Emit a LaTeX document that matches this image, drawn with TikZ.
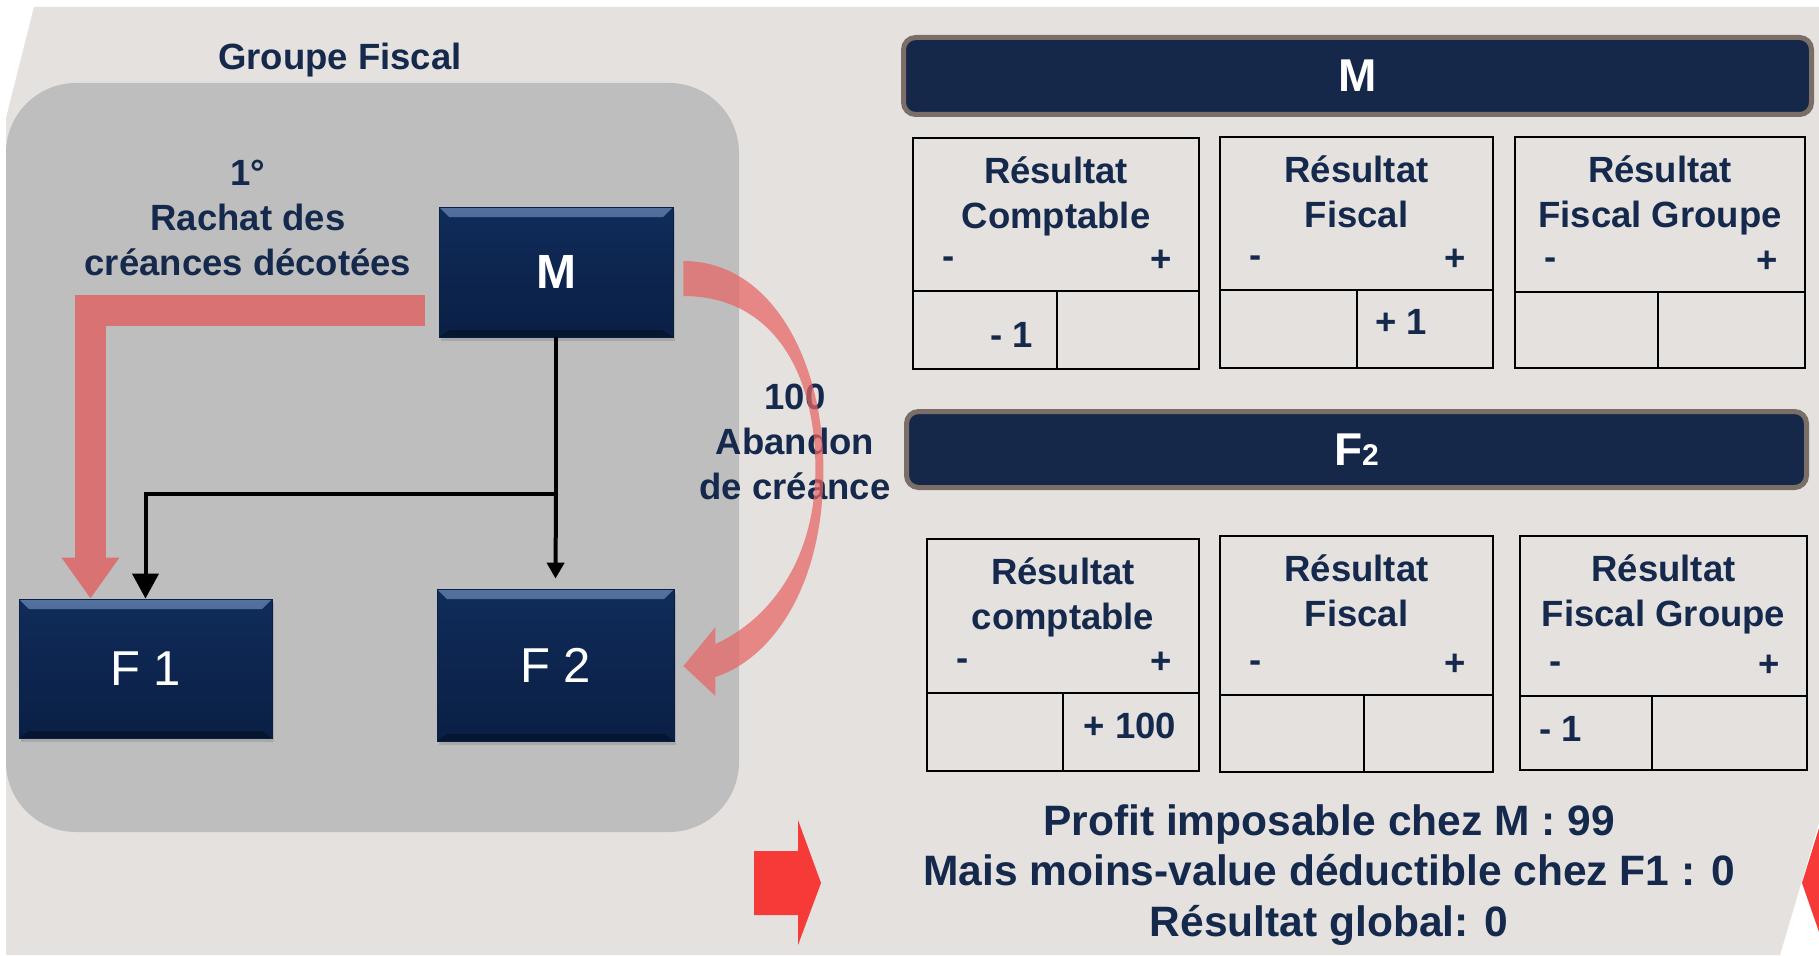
\documentclass[tikz,border=0pt]{standalone}
\usepackage{fontspec}
\setmainfont{Liberation Sans}
\usetikzlibrary{arrows.meta,positioning,calc,shadows}

\definecolor{slide}{RGB}{228,225,222}
\definecolor{groupgrey}{RGB}{190,190,190}
\definecolor{ink}{RGB}{21,41,77}
\definecolor{boxtop}{RGB}{16,44,90}
\definecolor{boxbot}{RGB}{10,31,68}
\definecolor{bevel}{RGB}{84,114,160}
\definecolor{barnavy}{RGB}{22,40,74}
\definecolor{taupe}{RGB}{122,110,102}
\definecolor{flow}{RGB}{217,114,114}
\definecolor{gift}{RGB}{232,100,100}
\definecolor{alert}{RGB}{245,58,55}

\begin{document}
\begin{tikzpicture}[
		x=1pt, y=-1pt,
		>=Latex,
		entity/.style={draw=boxbot, line width=0.8pt, top color=boxtop, bottom color=boxbot, text=white,
			drop shadow={shadow xshift=2pt, shadow yshift=-4pt, opacity=.35},
			path picture={
				\shade[top color=bevel, bottom color=boxtop]
				(path picture bounding box.north west) -- (path picture bounding box.north east)
				-- ([shift={(-10pt,-10pt)}]path picture bounding box.north east)
				-- ([shift={(10pt,-10pt)}]path picture bounding box.north west) -- cycle;
				\fill[boxbot!70!black]
				(path picture bounding box.south west) -- (path picture bounding box.south east)
				-- ([shift={(-10pt,7pt)}]path picture bounding box.south east)
				-- ([shift={(10pt,7pt)}]path picture bounding box.south west) -- cycle;
		}},
		bar/.style={draw=taupe, line width=5pt, fill=barnavy, rounded corners=12pt, text=white,
			font=\fontsize{46}{50}\selectfont\bfseries},
		note/.style={text=ink, align=center, inner sep=0pt, font=\fontsize{36.5}{45}\selectfont\bfseries},
		summary/.style={text=ink, align=center, inner sep=0pt, font=\fontsize{42.5}{50.5}\selectfont\bfseries},
		acct/.style={draw=black, line width=2.6pt, inner sep=0pt},
		acctline/.style={draw=black, line width=2.6pt},
		sign/.style={text=ink, inner sep=0pt, font=\fontsize{36.5}{45}\selectfont\bfseries},
		tie/.style={line width=4pt, -{Triangle[length=25pt,width=26pt]}},
		rachat/.style={draw=flow, line width=31pt, -{Triangle[length=41pt,width=55pt]}}
		]
		
		\useasboundingbox (0,0) rectangle (1819,955);
		
		% slide background and group panel
		\fill[slide] (34,7) -- (1819,7) -- (1819,823) -- (1780,955) -- (6,955) -- (6,118) -- cycle;
		\fill[alert] (1819,828) -- (1802,883) -- (1819,932) -- cycle;
		\fill[groupgrey, rounded corners=70pt] (6,83) rectangle (739,832);
		
		\node[note] (grouplbl) at (340,60) {Groupe Fiscal};
		\node[note] (rachatlbl) at (248,218) {1°\\Rachat des\\créances décotées};
		\node[note] (abandonlbl) at (795,442) {100\\Abandon\\de créance};
		
		% companies
		\node[entity, minimum width=234pt, minimum height=130pt, font=\fontsize{48}{54}\selectfont\bfseries] (M) at (556,272) {M};
		\node[entity, minimum width=253pt, minimum height=139pt, font=\fontsize{49}{56}\selectfont] (F1) at (145.5,668.5) {F 1};
		\node[entity, minimum width=237pt, minimum height=152pt, font=\fontsize{49}{56}\selectfont] (F2) at (555.5,665) {F 2};
		
		% holding links
		\coordinate (split) at (M.south |- 0,494);
		\draw[tie] (M.south) -- (split) -| (F1.north);
		\draw[tie, -{Triangle[length=16pt,width=17pt]}] (split) -- ([yshift=10pt]F2.north);
		
		% purchase of the discounted claims
		\coordinate (buy) at (425,310);
		\draw[rachat] (buy) -| ([xshift=-55pt]F1.north);
		
		% debt waiver M -> F2
		\begin{scope}[shift={(M.east)}]
			\fill[gift, opacity=.72] (10,-11) .. controls (97,-11) and (150,87) .. (150,197)
			.. controls (150,317) and (97,387) .. (42,405) -- (42,424) -- (10,394) -- (42,355) -- (42,372)
			.. controls (97,347) and (142,287) .. (142,197)
			.. controls (142,97) and (97,24) .. (10,24) -- cycle;
		\end{scope}
		
		% result accounts
		\node[bar, minimum width=908pt, minimum height=77pt] (barM) at (1357.5,76) {M};
		\node[bar, minimum width=900pt, minimum height=76pt] (barF) at (1356.5,449.5) {F{\fontsize{30}{30}\selectfont 2}};
		
		\foreach \nm/\xa/\ya/\xb/\yb/\ys/\xs/\ttl in {
			mC/913/138/1199/369/291/1057/{Résultat\\Comptable},
			mF/1220/137/1493/368/290/1357/{Résultat\\Fiscal},
			mG/1515/137/1805/368/292/1658/{Résultat\\Fiscal Groupe},
			fC/927/539/1199/771/693/1063/{Résultat\\comptable},
			fF/1220/536/1493/772/695/1364/{Résultat\\Fiscal},
			fG/1520/536/1807/770/696/1652/{Résultat\\Fiscal Groupe}}{
			\node[acct, minimum width={\xb-\xa}, minimum height={\yb-\ya}] (\nm) at ({(\xa+\xb)/2},{(\ya+\yb)/2}) {};
			\draw[acctline] (\xa,\ys) -- (\xb,\ys) (\xs,\ys) -- (\xs,\yb);
			\node[note, anchor=north] (\nm-t) at ({(\xa+\xb)/2},\ya+19) {\ttl};
			\node[sign] (\nm-m) at (\xa+36,\ys-28) {-};
			\node[sign] (\nm-p) at (\xb-38,\ys-30) {+};
		}
		
		\node[sign] (mCval) at (1012,335) {- 1};
		\node[sign] (mFval) at (1401,322) {+ 1};
		\node[sign] (fCval) at (1130,726) {+ 100};
		\node[sign] (fGval) at (1561,729) {- 1};
		
		% conclusion
		\fill[alert] (754,851) -- (798,851) -- (798,820) -- (821,883) -- (798,945) -- (798,915) -- (754,915) -- cycle;
		\node[summary] (bilan) at (1329,875) {Profit imposable chez M : 99\\Mais moins-value déductible chez F1 : 0\\Résultat global: 0};
		
	\end{tikzpicture}
\end{document}
